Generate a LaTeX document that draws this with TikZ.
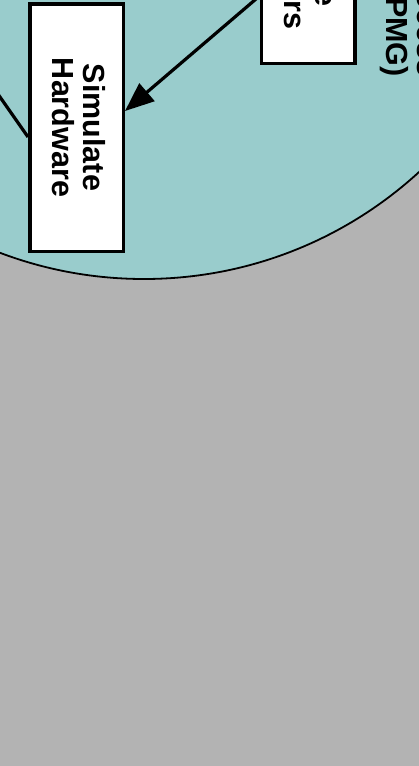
\documentclass[tikz,border=0pt]{standalone}
\usepackage{fontspec}
\setmainfont{Liberation Sans}
\usepackage{tikz}
\usetikzlibrary{arrows.meta,calc}
\definecolor{pool}{HTML}{99CCCC}
\definecolor{bg}{HTML}{B3B3B3}

\begin{document}
\begin{tikzpicture}[x=1pt,y=-1pt,
  k/.style={rectangle,draw,fill=white,line width=3.5pt,rotate=-90,minimum height=93.5pt,align=center,inner sep=0pt,font=\bfseries\fontsize{30.5}{31}\selectfont,execute at end node={\rule[-6pt]{0pt}{6pt}}},
  a/.style={-{Triangle[length=29pt,width=23pt]},line width=3.2pt}]
  \path[use as bounding box] (0,0) rectangle (419,766);
  \clip (0,0) rectangle (419,766);
  \fill[bg] (0,0) rectangle (419,766);
  \filldraw[fill=pool,line width=1.8pt] (144,-128) circle[radius=407];

  \node[k,minimum width=247.5pt] (sh) at (76.5,127.5) {Simulate\\Hardware};
  \node[k,minimum width=234.5pt] (ip) at (308,-54) {Initialize\\Parameters};
  \node[rotate=-90,anchor=north east,align=right,inner sep=0pt,font=\bfseries\fontsize{30.5}{31}\selectfont] (pmg) at (440,77) {Model Generation Process\\(PMG)};
  \coordinate (lft) at (-14,77);

  \draw[a] ($(ip.south)+(0,50)$) -- ($(sh.north)+(0,-16.5)$);
  \draw[line width=3.2pt] ($(sh.south)+(0,9.5)$) -- (lft);
\end{tikzpicture}
\end{document}
